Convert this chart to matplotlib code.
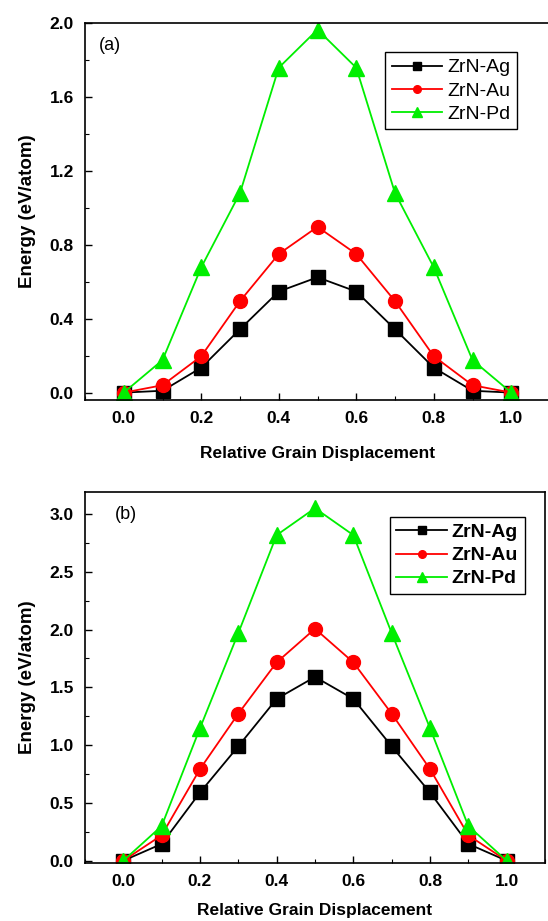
import matplotlib
matplotlib.use("Agg")
import matplotlib.pyplot as plt
from matplotlib.ticker import MultipleLocator

plt.rcParams['font.family'] = ['Liberation Sans', 'DejaVu Sans']

x = [0.0, 0.1, 0.2, 0.3, 0.4, 0.5, 0.6, 0.7, 0.8, 0.9, 1.0]

# Panel (a)
ag_a = [0.0, 0.01, 0.135, 0.343, 0.547, 0.624, 0.547, 0.343, 0.135, 0.01, 0.0]
au_a = [0.0, 0.04, 0.197, 0.495, 0.75, 0.897, 0.75, 0.495, 0.197, 0.04, 0.0]
pd_a = [0.0, 0.176, 0.678, 1.08, 1.758, 1.964, 1.758, 1.08, 0.678, 0.176, 0.0]

# Panel (b)
ag_b = [0.0, 0.145, 0.59, 0.99, 1.40, 1.59, 1.40, 0.99, 0.59, 0.145, 0.0]
au_b = [0.0, 0.22, 0.793, 1.272, 1.716, 2.007, 1.716, 1.272, 0.793, 0.22, 0.0]
pd_b = [0.0, 0.30, 1.147, 1.97, 2.817, 3.05, 2.817, 1.97, 1.147, 0.30, 0.0]

labels = ['ZrN-Ag', 'ZrN-Au', 'ZrN-Pd']
xticks = [0.0, 0.2, 0.4, 0.6, 0.8, 1.0]

BLACK = '#000000'
RED = '#ff0000'
GREEN = '#00ee00'

W, H = 548, 921
fig = plt.figure(figsize=(W / 100, H / 100), dpi=100)

def px_axes(l, r, t, b):
    return fig.add_axes([l / W, (H - b) / H, (r - l) / W, (b - t) / H])

ax1 = px_axes(85, 550, 23, 400)
ax2 = px_axes(85, 545, 492, 863)

def draw(ax, ag, au, pd, ylim, ymajor, yminor, yfmt, panel, panel_x, leg_anchor, bold_legend, xlabelpad):
    l1, = ax.plot(x, ag, '-', color=BLACK, lw=1.3, marker='s', ms=10, mfc=BLACK, mec=BLACK, label=labels[0])
    l2, = ax.plot(x, au, '-', color=RED, lw=1.3, marker='o', ms=10, mfc=RED, mec=RED, label=labels[1])
    l3, = ax.plot(x, pd, '-', color=GREEN, lw=1.3, marker='^', ms=12, mfc=GREEN, mec=GREEN, label=labels[2])
    ax.set_xlim(-0.1, 1.1)
    ax.set_ylim(*ylim)
    ax.set_xticks(xticks)
    ax.xaxis.set_minor_locator(MultipleLocator(0.1))
    ax.yaxis.set_major_locator(MultipleLocator(ymajor))
    ax.yaxis.set_minor_locator(MultipleLocator(yminor))
    ax.set_xticklabels(['%.1f' % v for v in xticks])
    ax.yaxis.set_major_formatter(plt.FormatStrFormatter(yfmt))
    ax.tick_params(which='both', direction='in', top=False, right=False)
    ax.tick_params(which='major', length=5, width=1, pad=8, labelsize=12.5)
    ax.tick_params(which='minor', length=3, width=0.8)
    for lab in ax.get_xticklabels() + ax.get_yticklabels():
        lab.set_fontweight('bold')
    for s in ax.spines.values():
        s.set_linewidth(1.2)
    ax.set_xlabel('Relative Grain Displacement', fontsize=12.5, fontweight='bold', labelpad=xlabelpad)
    ax.set_ylabel('Energy (eV/atom)', fontsize=13.5, fontweight='bold', labelpad=10)
    ax.text(panel_x, 0.94, panel, transform=ax.transAxes, fontsize=13, va='center', ha='left')
    leg = ax.legend(handles=[l1, l2, l3], loc='upper right', bbox_to_anchor=leg_anchor,
                    borderaxespad=0.0,
                    frameon=True, fancybox=False, edgecolor='black', framealpha=1,
                    markerscale=0.55, handlelength=2.6, handletextpad=0.25,
                    borderpad=0.35, labelspacing=0.28,
                    prop={'size': 14, 'weight': 'bold' if bold_legend else 'normal'})
    leg.get_frame().set_linewidth(1.0)

draw(ax1, ag_a, au_a, pd_a, (-0.04, 2.0), 0.4, 0.2, '%.1f', '(a)', 0.03, (0.929, 0.923), False, 14)
draw(ax2, ag_b, au_b, pd_b, (-0.02, 3.19), 0.5, 0.25, '%.1f', '(b)', 0.065, (0.9565, 0.933), True, 10)

fig.savefig('out.png', dpi=100)
